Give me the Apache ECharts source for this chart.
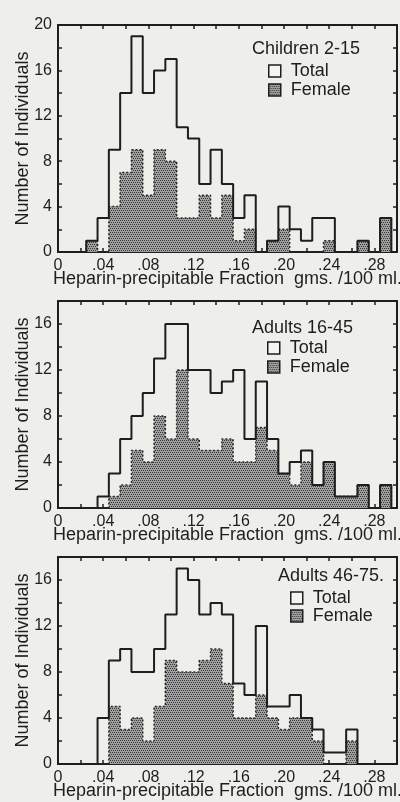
<!DOCTYPE html>
<html>
<head>
<meta charset="utf-8">
<script src="https://cdn.jsdelivr.net/npm/echarts@6/dist/echarts.min.js"></script>
<style>
html, body { margin: 0; padding: 0; background: #eeeeeb; }
#chart { width: 400px; height: 802px; }
</style>
</head>
<body>
<div id="chart"></div>
<script>
// bin centres, gms./100 ml. (each bin .01 wide)
var binCenters = [0.00, 0.01, 0.02, 0.03, 0.04, 0.05, 0.06, 0.07, 0.08, 0.09,
                  0.10, 0.11, 0.12, 0.13, 0.14, 0.15, 0.16, 0.17, 0.18, 0.19,
                  0.20, 0.21, 0.22, 0.23, 0.24, 0.25, 0.26, 0.27, 0.28, 0.29];
var binWidth = 0.01;

var childrenTotal  = [0,0,0,1,3,9,14,19,14,16,17,11,10,6,9,6,3,5,0,1,4,2,1,3,3,0,0,1,0,3];
var childrenFemale = [0,0,0,1,0,4,7,9,5,9,8,3,3,5,3,5,1,2,0,1,2,0,0,0,1,0,0,1,0,3];

var adultsYoungTotal  = [0,0,0,0,1,3,6,8,10,13,16,16,12,12,10,11,12,6,11,6,3,4,5,2,4,1,1,2,0,2];
var adultsYoungFemale = [0,0,0,0,0,1,2,5,4,8,6,12,6,5,5,6,4,4,7,5,3,2,4,2,4,1,1,2,0,2];

var adultsOldTotal  = [0,0,0,0,4,9,10,8,8,10,13,17,16,13,14,13,7,6,12,5,5,6,4,3,1,1,3,0,0,0];
var adultsOldFemale = [0,0,0,0,0,5,3,4,2,5,9,8,8,9,10,7,4,4,6,4,3,4,4,2,0,0,2,0,0,0];

var panelTitles = ["Children 2-15", "Adults 16-45", "Adults 46-75."];
var yMax = [20, 18, 18];
var xName = "Heparin-precipitable Fraction  gms. /100 ml.";
var yName = "Number of Individuals";

var ink = "#1e1e1e";
var font = "Liberation Sans";

// stipple for the female bars
var cv = document.createElement("canvas");
cv.width = 4; cv.height = 4;
var cx = cv.getContext("2d");
cx.fillStyle = "#a0a0a0";
cx.fillRect(0, 0, 4, 4);
cx.fillStyle = "#383838";
cx.fillRect(0, 0, 1, 1); cx.fillRect(2, 0, 1, 1);
cx.fillRect(1, 2, 1, 1); cx.fillRect(3, 2, 1, 1);
var stipple = { image: cv, repeat: "repeat" };

function stepPoints(counts) {
  var pts = [];
  for (var i = 0; i < counts.length; i++) {
    pts.push([binCenters[i] - binWidth / 2, counts[i]]);
  }
  var end = binCenters[counts.length - 1] + binWidth / 2;
  pts.push([end, counts[counts.length - 1]]);
  pts.push([end, 0]);
  return pts;
}

function xLabel(v) {
  var k = Math.round(v * 100);
  if (k % 4) return "";
  return k === 0 ? "0" : "." + (k < 10 ? "0" + k : "" + k);
}

var grids = [
  { left: 58, top: 25, width: 339, height: 227 },
  { left: 58, top: 301, width: 339, height: 207 },
  { left: 58, top: 557, width: 339, height: 207 }
];
var titleTops = [40, 319, 567];
var titleLefts = [252, 252, 278];
var legendTops = [62, 339, 589];
var legendLefts = [268, 267, 290];
var legendGaps = [1, 1, 0];

var data = [
  [childrenTotal, childrenFemale],
  [adultsYoungTotal, adultsYoungFemale],
  [adultsOldTotal, adultsOldFemale]
];

var axisLine = { show: true, onZero: false, lineStyle: { color: ink, width: 2 } };
var axisTick = { show: true, inside: true, length: 4, lineStyle: { color: ink, width: 1.5 } };

var xAxes = [], yAxes = [], series = [], titles = [], legends = [];
for (var g = 0; g < 3; g++) {
  grids[g].outerBoundsMode = "none";
  xAxes.push({
    type: "value", gridIndex: g, position: "bottom", min: 0, max: 0.3, interval: 0.02,
    axisLine: axisLine, axisTick: axisTick, splitLine: { show: false },
    axisLabel: { formatter: xLabel, color: ink, fontSize: 16, fontFamily: font, margin: 6 },
    name: xName, nameLocation: "middle", nameGap: 18, nameMoveOverlap: false,
    nameTextStyle: { color: ink, fontSize: 18, fontFamily: font }
  });
  xAxes.push({
    type: "value", gridIndex: g, position: "top", min: 0, max: 0.3, interval: 0.02,
    axisLine: axisLine, axisTick: axisTick, splitLine: { show: false },
    axisLabel: { show: false }
  });
  yAxes.push({
    type: "value", gridIndex: g, position: "left", min: 0, max: yMax[g], interval: 2,
    axisLine: axisLine, axisTick: axisTick, splitLine: { show: false },
    axisLabel: {
      formatter: function (v) { return v % 4 ? "" : String(v); },
      color: ink, fontSize: 16, fontFamily: font, margin: 6
    },
    name: yName, nameLocation: "middle", nameGap: 26, nameMoveOverlap: false,
    nameTextStyle: { color: ink, fontSize: 18, fontFamily: font }
  });
  yAxes.push({
    type: "value", gridIndex: g, position: "right", min: 0, max: yMax[g], interval: 2,
    axisLine: axisLine, axisTick: axisTick, splitLine: { show: false },
    axisLabel: { show: false }
  });

  series.push({
    name: "Female", type: "line", xAxisIndex: 2 * g, yAxisIndex: 2 * g,
    data: stepPoints(data[g][1]), step: "end", showSymbol: false, symbol: "none",
    lineStyle: { color: "#2a2a2a", width: 1.5, type: [2, 2] },
    areaStyle: { color: stipple, opacity: 1 },
    z: 2, silent: true
  });
  series.push({
    name: "Total", type: "line", xAxisIndex: 2 * g, yAxisIndex: 2 * g,
    data: stepPoints(data[g][0]), step: "end", showSymbol: false, symbol: "none",
    lineStyle: { color: ink, width: 2 },
    z: 3, silent: true
  });

  titles.push({
    text: panelTitles[g], left: titleLefts[g], top: titleTops[g], padding: 0,
    textStyle: { color: ink, fontSize: 18, fontWeight: "normal", fontFamily: font }
  });
  legends.push({
    orient: "vertical", left: legendLefts[g], top: legendTops[g], padding: 0,
    itemGap: legendGaps[g], itemWidth: 12, itemHeight: 12, selectedMode: false,
    textStyle: { color: ink, fontSize: 18, fontFamily: font, lineHeight: 18, padding: [0, 0, 0, 5] },
    data: [
      { name: "Total", icon: "rect", itemStyle: { color: "#f4f4f2", borderColor: ink, borderWidth: 1.5 } },
      { name: "Female", icon: "rect", itemStyle: { color: stipple, borderColor: ink, borderWidth: 1.5 } }
    ]
  });
}

var chart = echarts.init(document.getElementById("chart"), null, { renderer: "canvas" });
chart.setOption({
  backgroundColor: "#eeeeeb",
  animation: false,
  title: titles,
  legend: legends,
  grid: grids,
  xAxis: xAxes,
  yAxis: yAxes,
  series: series
});
</script>
</body>
</html>
